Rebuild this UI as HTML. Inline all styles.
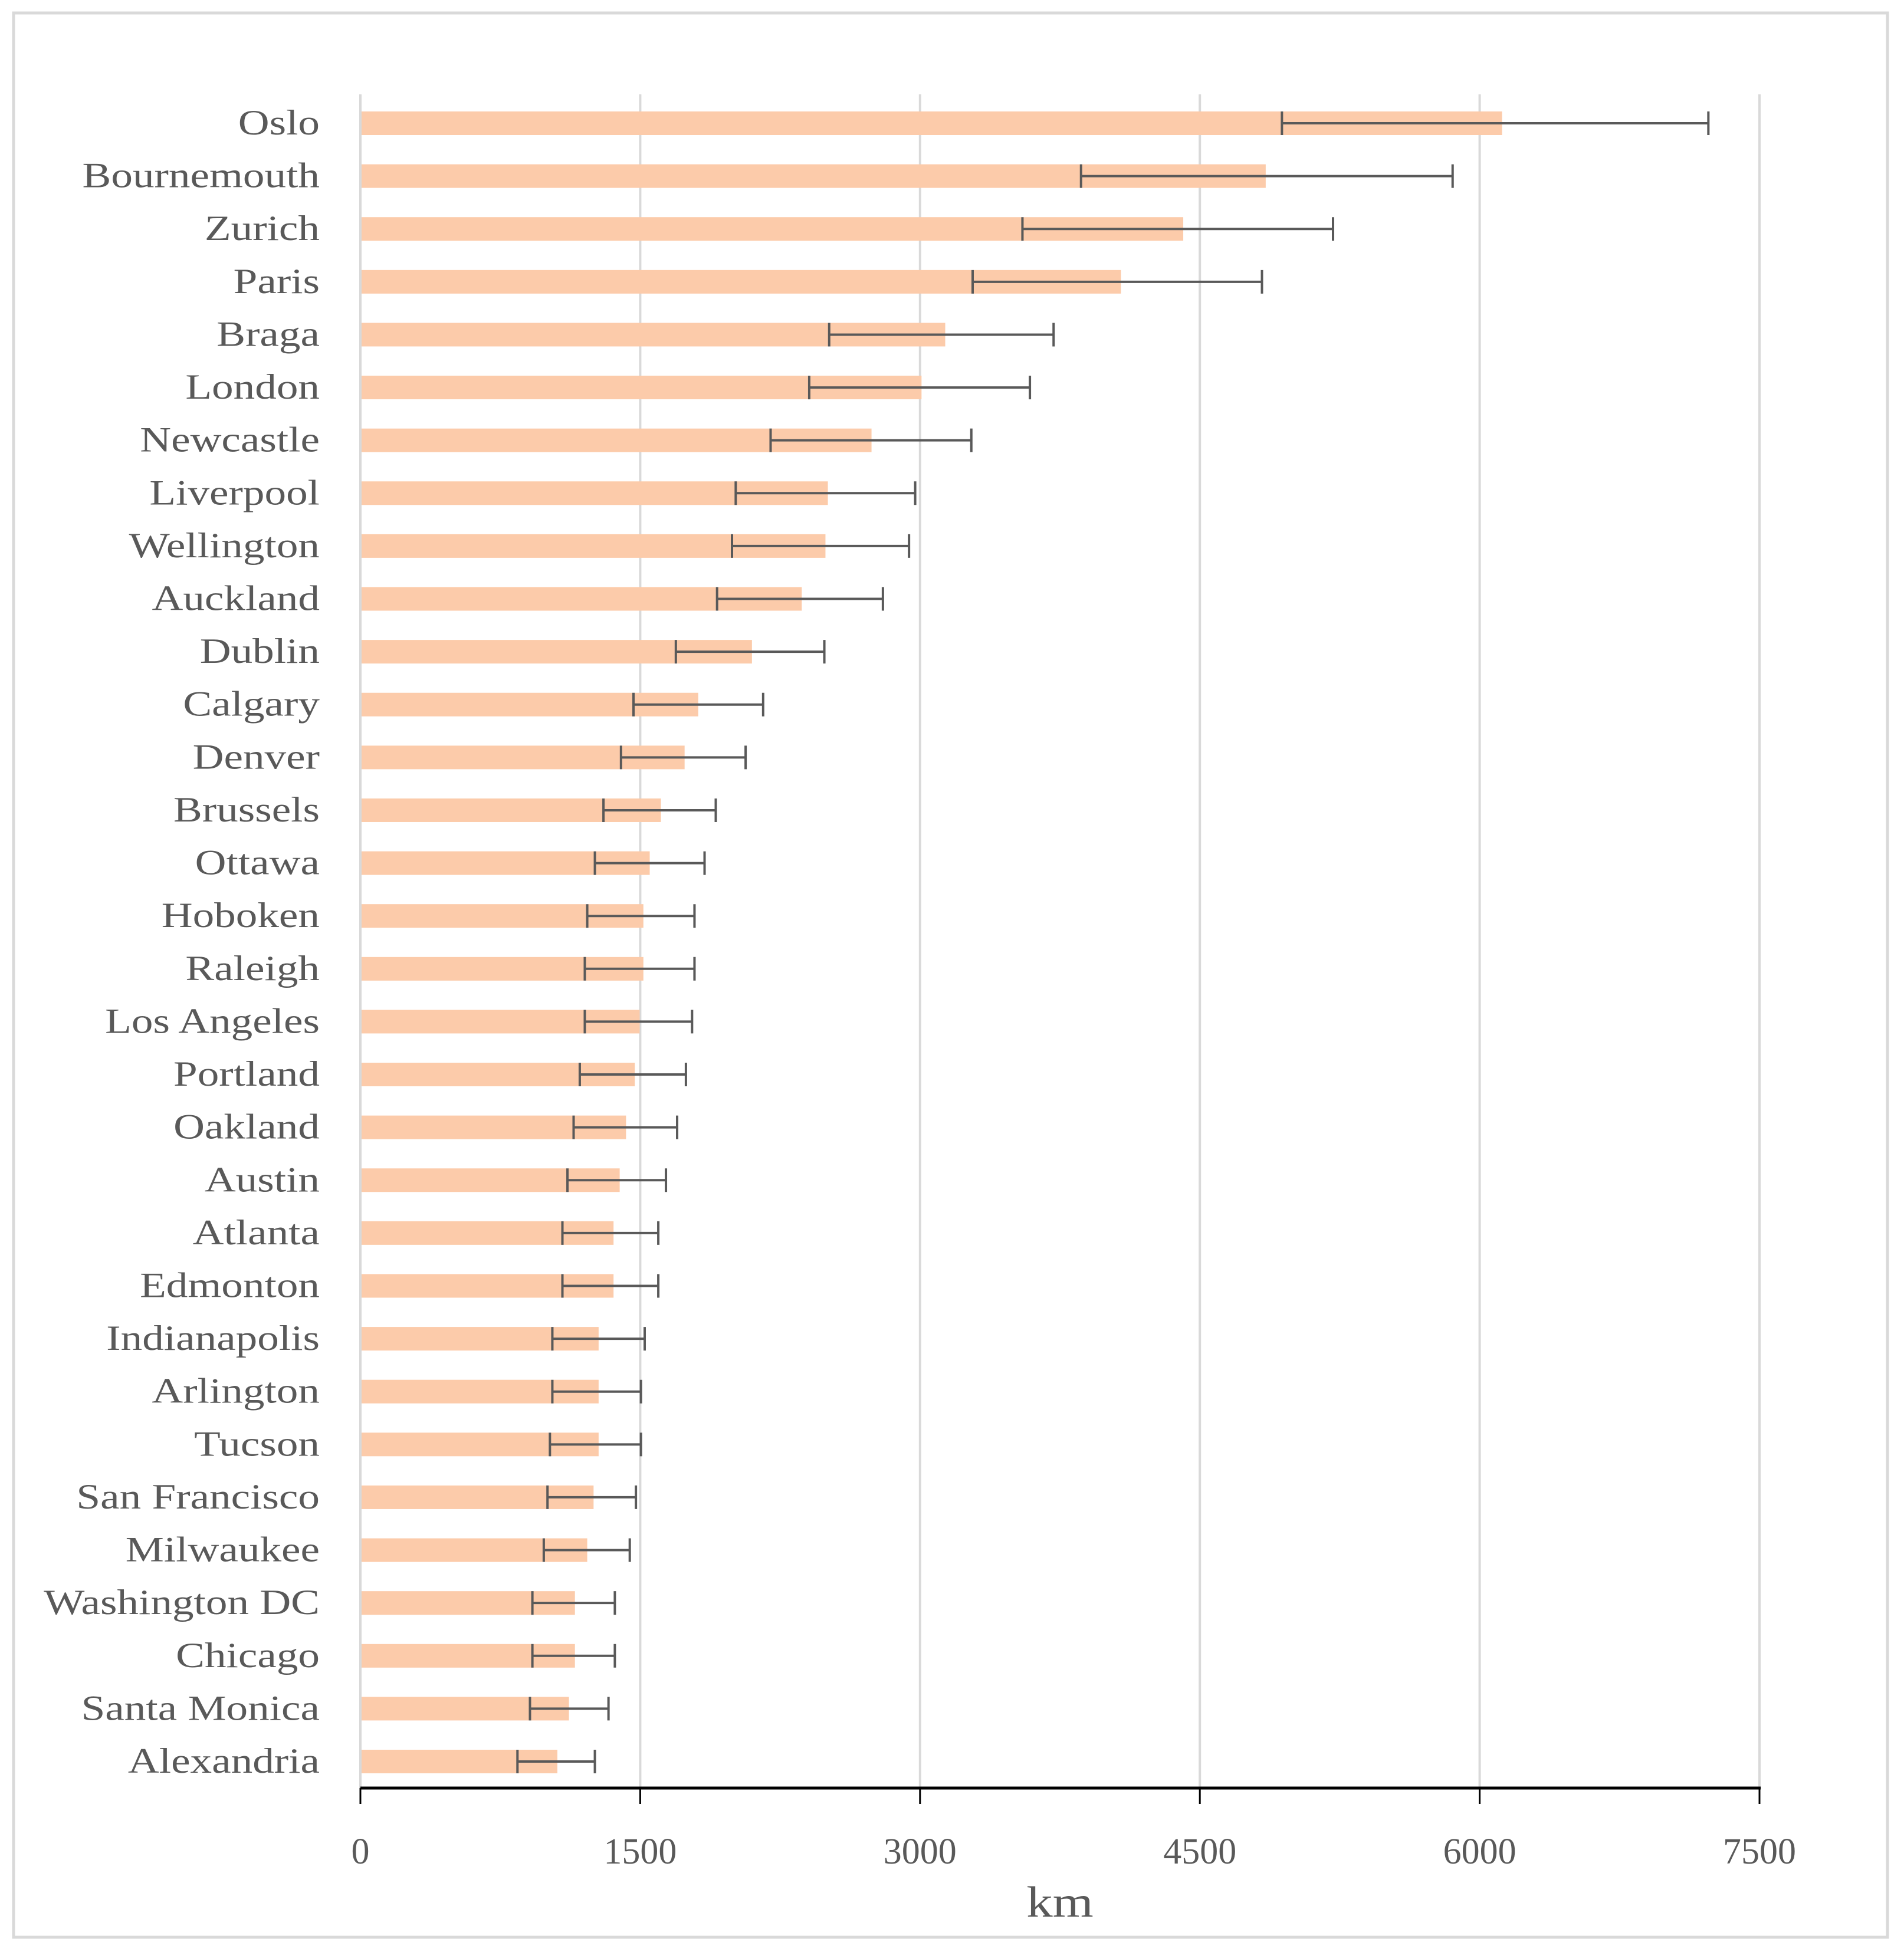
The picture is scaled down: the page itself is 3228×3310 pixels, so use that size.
<!DOCTYPE html>
<html><head><meta charset="utf-8"><style>
html,body{margin:0;padding:0;background:#fff;}
svg{display:block;}
text{font-family:"Liberation Serif",serif;fill:#595959;}
</style></head><body>
<svg id="chart" width="3228" height="3310" xmlns="http://www.w3.org/2000/svg">
<rect x="23" y="22" width="3177" height="3263" fill="#fff" stroke="#d9d9d9" stroke-width="5"/>
<g id="grid"></g><g id="bars"></g><g id="errs"></g><g id="labels"></g><g id="axis"></g>
</svg>
<script>
const categories=["Oslo","Bournemouth","Zurich","Paris","Braga","London","Newcastle","Liverpool","Wellington","Auckland","Dublin","Calgary","Denver","Brussels","Ottawa","Hoboken","Raleigh","Los Angeles","Portland","Oakland","Austin","Atlanta","Edmonton","Indianapolis","Arlington","Tucson","San Francisco","Milwaukee","Washington DC","Chicago","Santa Monica","Alexandria"];
const values=[6120,4853,4411,4077,3135,3008,2740,2506,2493,2366,2099,1811,1738,1611,1551,1517,1517,1497,1471,1424,1390,1357,1357,1277,1277,1277,1250,1216,1150,1150,1118,1056];
const errLow=[4940,3863,3549,3282,2513,2406,2199,2012,1992,1912,1691,1464,1397,1303,1257,1216,1203,1203,1176,1143,1110,1083,1083,1029,1029,1016,1003,983,922,922,909,842];
const errHigh=[7226,5855,5214,4833,3716,3589,3275,2974,2941,2801,2487,2159,2065,1905,1845,1791,1791,1778,1745,1698,1638,1597,1597,1524,1504,1504,1477,1444,1364,1364,1330,1257];
const ticks=[0,1500,3000,4500,6000,7500];
</script>
<script>
const NS="http://www.w3.org/2000/svg";
const X0=611,PX=(2983-611)/7500,TOP=160,AXY=3032,Y0=209;
const cats=categories;
const n=cats.length;
const step=(2987-Y0)/(n-1);
function xs(v){return X0+v*PX;}
function ys(i){return Y0+i*step;}
function mk(tag,attrs,parent){const e=document.createElementNS(NS,tag);for(const k in attrs)e.setAttribute(k,attrs[k]);document.getElementById(parent).appendChild(e);return e;}
ticks.forEach(t=>{
  if(t>0){const g=mk('line',{x1:xs(t),x2:xs(t),y1:TOP,y2:AXY,stroke:'#d9d9d9','stroke-width':4},'grid');
  
  }
  const tk=mk('line',{x1:xs(t),x2:xs(t),y1:AXY,y2:3059,stroke:'#000','stroke-width':3},'axis');
  
  
  const tl=mk('text',{x:xs(t),y:3160,'text-anchor':'middle','font-size':62},'axis');
  tl.textContent=t;
  
  
});
mk('line',{x1:X0,x2:X0,y1:TOP,y2:AXY,stroke:'#d9d9d9','stroke-width':4},'grid');
const ax=mk('line',{x1:X0,x2:xs(7500)+2,y1:AXY,y2:AXY,stroke:'#000','stroke-width':5},'axis');


const at=mk('text',{x:0,y:0,'text-anchor':'middle','font-size':74,transform:`translate(${(xs(0)+xs(7500))/2},3250) scale(1.2,1)`},'axis');
at.textContent='km';


cats.forEach((c,i)=>{
  const y=ys(i);
  const b=mk('rect',{x:X0+2,y:y-20,width:xs(values[i])-X0-2,height:40,fill:'#fccbaa'},'bars');
  
  
  const l=mk('text',{x:0,y:0,'text-anchor':'end','font-size':60,transform:`translate(542,${y+19}) scale(1.22,1)`},'labels');
  l.textContent=c;
  
  
  const e=mk('path',{d:`M${xs(errLow[i])},${y-20}V${y+20}M${xs(errLow[i])},${y}H${xs(errHigh[i])}M${xs(errHigh[i])},${y-20}V${y+20}`,stroke:'#595959','stroke-width':4,fill:'none'},'errs');
  
  
});
</script>
</body></html>
